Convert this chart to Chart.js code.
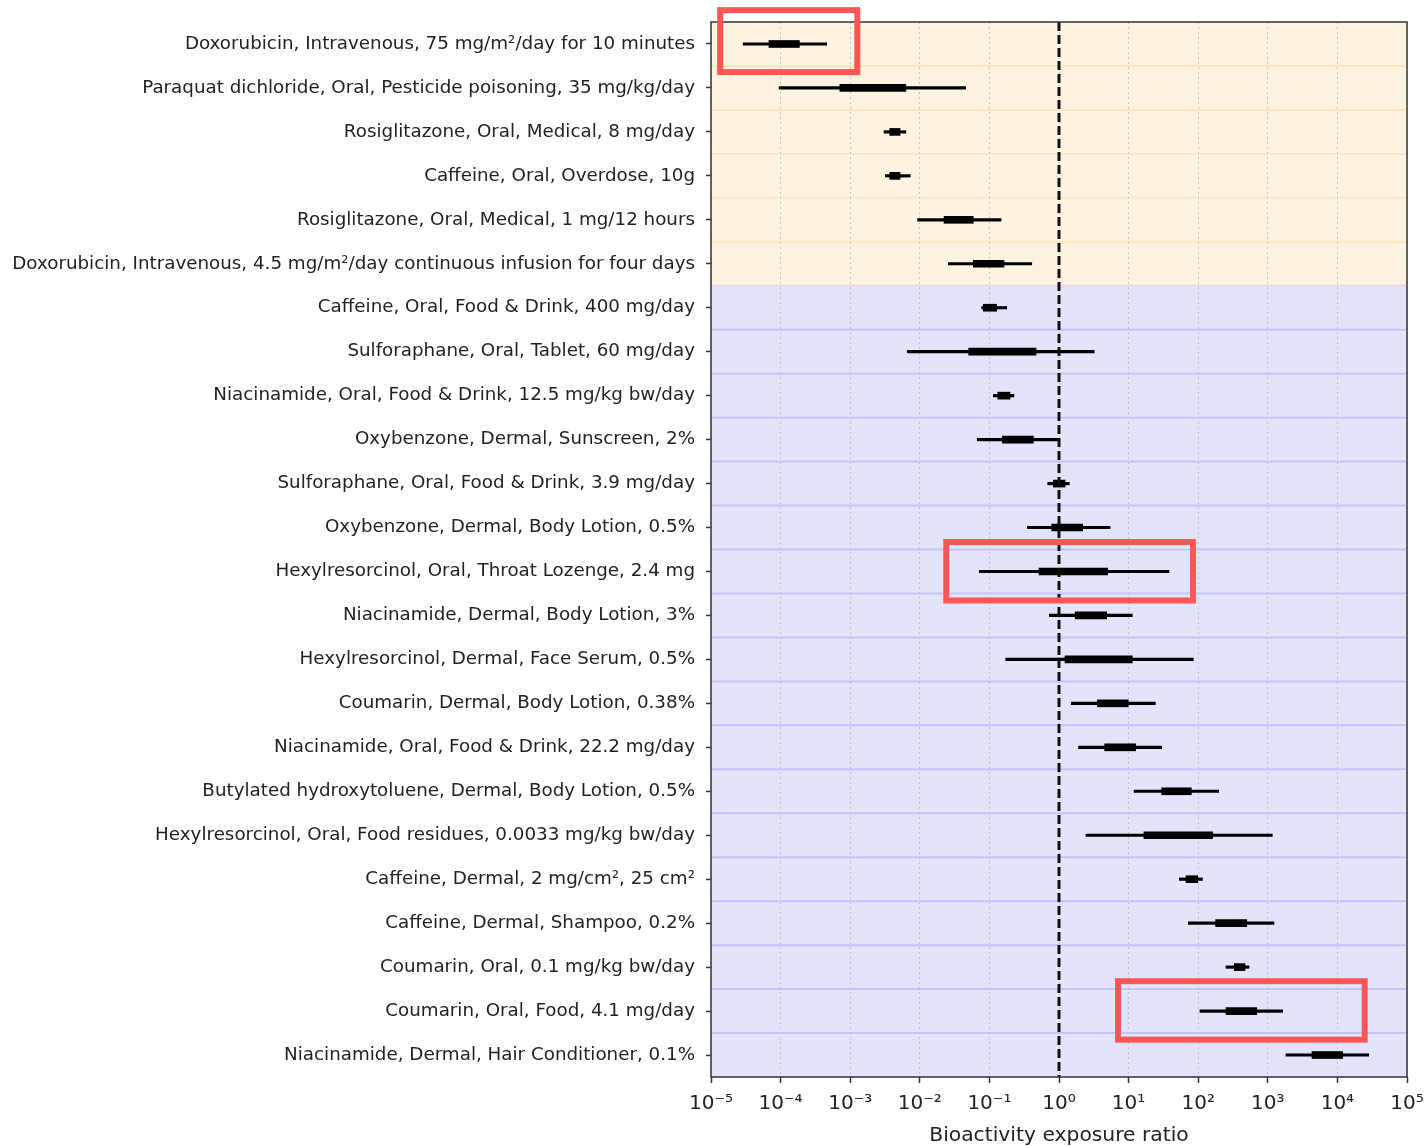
<!DOCTYPE html>
<html>
<head>
<meta charset="utf-8">
<title>Bioactivity exposure ratio</title>
<script src="https://cdn.jsdelivr.net/npm/chart.js@4.4.1/dist/chart.umd.min.js"></script>
<style>
  html, body { margin: 0; padding: 0; background: #fff; }
  #wrap { position: relative; width: 1427px; height: 1146px; }
</style>
</head>
<body>
<div id="wrap"><canvas id="chart" width="1427" height="1146"></canvas></div>
<script>
const labels = [
  "Doxorubicin, Intravenous, 75 mg/m²/day for 10 minutes",
  "Paraquat dichloride, Oral, Pesticide poisoning, 35 mg/kg/day",
  "Rosiglitazone, Oral, Medical, 8 mg/day",
  "Caffeine, Oral, Overdose, 10g",
  "Rosiglitazone, Oral, Medical, 1 mg/12 hours",
  "Doxorubicin, Intravenous, 4.5 mg/m²/day continuous infusion for four days",
  "Caffeine, Oral, Food & Drink, 400 mg/day",
  "Sulforaphane, Oral, Tablet, 60 mg/day",
  "Niacinamide, Oral, Food & Drink, 12.5 mg/kg bw/day",
  "Oxybenzone, Dermal, Sunscreen, 2%",
  "Sulforaphane, Oral, Food & Drink, 3.9 mg/day",
  "Oxybenzone, Dermal, Body Lotion, 0.5%",
  "Hexylresorcinol, Oral, Throat Lozenge, 2.4 mg",
  "Niacinamide, Dermal, Body Lotion, 3%",
  "Hexylresorcinol, Dermal, Face Serum, 0.5%",
  "Coumarin, Dermal, Body Lotion, 0.38%",
  "Niacinamide, Oral, Food & Drink, 22.2 mg/day",
  "Butylated hydroxytoluene, Dermal, Body Lotion, 0.5%",
  "Hexylresorcinol, Oral, Food residues, 0.0033 mg/kg bw/day",
  "Caffeine, Dermal, 2 mg/cm², 25 cm²",
  "Caffeine, Dermal, Shampoo, 0.2%",
  "Coumarin, Oral, 0.1 mg/kg bw/day",
  "Coumarin, Oral, Food, 4.1 mg/day",
  "Niacinamide, Dermal, Hair Conditioner, 0.1%"
];

// whisker (thin line) range and box (thick bar) range, per row
const whiskerLow  = [2.9e-5, 9.5e-5, 3.06e-3, 3.2e-3, 9.3e-3, 0.0257, 0.0774, 6.6e-3, 0.114, 0.067, 0.689, 0.351,
                     0.0716, 0.726, 0.171, 1.50, 1.91, 12.0, 2.44, 53.5, 72.1, 251, 106, 1824];
const whiskerHigh = [4.6e-4, 0.0456, 6.3e-3, 7.3e-3, 0.147, 0.406, 0.177, 3.21, 0.225, 1.0, 1.41, 5.41,
                     38.0, 11.3, 85.1, 24.2, 29.9, 197, 1161, 115, 1227, 537, 1637, 28200];
const boxLow      = [6.8e-5, 7.1e-4, 3.7e-3, 3.7e-3, 0.0223, 0.0587, 0.0818, 0.0504, 0.132, 0.153, 0.828, 0.785,
                     0.516, 1.71, 1.22, 3.56, 4.53, 29.9, 16.6, 66.8, 178, 330, 251, 4315];
const boxHigh     = [1.86e-4, 6.3e-3, 5.2e-3, 5.2e-3, 0.0587, 0.162, 0.127, 0.468, 0.198, 0.428, 1.22, 2.19,
                     5.01, 4.84, 11.3, 9.9, 12.6, 79.6, 161, 98.4, 498, 470, 693, 11900];

// rows 0..5 sit in the orange band, the rest in the lavender band
const orangeRows = 6;

const xTickValues = [1e-5, 1e-4, 1e-3, 1e-2, 1e-1, 1e0, 1e1, 1e2, 1e3, 1e4, 1e5];
const xTickLabels = ["10⁻⁵", "10⁻⁴", "10⁻³", "10⁻²", "10⁻¹", "10⁰", "10¹", "10²", "10³", "10⁴", "10⁵"];

// red highlight frames, in data units (x value, row index)
const highlights = [
  { xFrom: 1.355e-5, xTo: 1.265e-3, rowFrom: -0.77, rowTo: 0.64 },
  { xFrom: 0.024,    xTo: 84.1,     rowFrom: 11.33, rowTo: 12.66 },
  { xFrom: 7.05,     xTo: 24660,    rowFrom: 21.32, rowTo: 22.65 }
];

const FONT = "'DejaVu Sans', 'Liberation Sans', sans-serif";

const bandsPlugin = {
  id: "bands",
  beforeDraw(chart) {
    const { ctx, chartArea: a, scales: { y } } = chart;
    ctx.save();
    for (let i = 0; i < labels.length; i++) {
      const top = y.getPixelForValue(i - 0.5);
      const bot = y.getPixelForValue(i + 0.5);
      ctx.fillStyle = i < orangeRows ? "#fdf3e1" : "#e3e3fc";
      ctx.fillRect(a.left, top, a.right - a.left, bot - top);
    }
    ctx.lineWidth = 2;
    for (let i = 1; i < labels.length; i++) {
      const py = y.getPixelForValue(i - 0.5);
      ctx.strokeStyle = i < orangeRows ? "#fde5bd" : (i === orangeRows ? "#e6d6ec" : "#c4c4f8");
      ctx.beginPath();
      ctx.moveTo(a.left, py);
      ctx.lineTo(a.right, py);
      ctx.stroke();
    }
    ctx.restore();
  }
};

const overlayPlugin = {
  id: "overlay",
  afterDatasetsDraw(chart) {
    const { ctx, chartArea: a, scales: { x } } = chart;
    ctx.save();
    // reference line at ratio 1
    const px = x.getPixelForValue(1);
    ctx.strokeStyle = "#111";
    ctx.lineWidth = 3;
    ctx.setLineDash([9, 4]);
    ctx.beginPath();
    ctx.moveTo(px, a.top);
    ctx.lineTo(px, a.bottom);
    ctx.stroke();
    ctx.setLineDash([]);
    // frame
    ctx.strokeStyle = "#333";
    ctx.lineWidth = 1.5;
    ctx.strokeRect(a.left, a.top, a.right - a.left, a.bottom - a.top);
    ctx.restore();
  },
  afterDraw(chart) {
    const { ctx, scales: { x, y } } = chart;
    ctx.save();
    ctx.strokeStyle = "#ff5555";
    ctx.lineWidth = 6;
    highlights.forEach(h => {
      const x1 = x.getPixelForValue(h.xFrom);
      const x2 = x.getPixelForValue(h.xTo);
      const y1 = y.getPixelForValue(h.rowFrom);
      const y2 = y.getPixelForValue(h.rowTo);
      ctx.strokeRect(x1, y1, x2 - x1, y2 - y1);
    });
    ctx.restore();
  }
};

new Chart(document.getElementById("chart"), {
  type: "bar",
  data: {
    labels: labels,
    datasets: [
      {
        label: "range",
        data: labels.map((_, i) => [whiskerLow[i], whiskerHigh[i]]),
        backgroundColor: "#000",
        borderWidth: 0,
        barThickness: 2.5,
        grouped: false,
        order: 2
      },
      {
        label: "interquartile",
        data: labels.map((_, i) => [boxLow[i], boxHigh[i]]),
        backgroundColor: "#000",
        borderWidth: 0,
        barThickness: 7,
        grouped: false,
        order: 1
      }
    ]
  },
  options: {
    indexAxis: "y",
    responsive: false,
    animation: false,
    devicePixelRatio: 1,
    layout: { padding: { top: 22, right: 20, bottom: 0, left: 0 } },
    plugins: {
      legend: { display: false },
      tooltip: { enabled: false }
    },
    scales: {
      x: {
        type: "logarithmic",
        min: 1e-5,
        max: 1e5,
        afterBuildTicks(scale) {
          scale.ticks = xTickValues.map(v => ({ value: v }));
        },
        afterFit(scale) {
          scale.height = 69;
          scale.paddingLeft = 0;
          scale.paddingRight = 0;
        },
        border: { display: false, dash: [2, 3] },
        grid: {
          color: "#c4c4c4",
          lineWidth: 1,
          tickLength: 6,
          tickColor: "#333",
          tickWidth: 1.5,
          tickBorderDash: []
        },
        ticks: {
          autoSkip: false,
          maxRotation: 0,
          padding: 9,
          color: "#222",
          font: { family: FONT, size: 20 },
          callback: (v, i) => xTickLabels[i]
        },
        title: {
          display: true,
          text: "Bioactivity exposure ratio",
          color: "#222",
          font: { family: FONT, size: 20.3, lineHeight: 1.0 },
          padding: { top: 0, bottom: 0 }
        }
      },
      y: {
        afterFit(scale) {
          scale.width = 711;
          scale.paddingTop = 0;
          scale.paddingBottom = 0;
        },
        border: { display: false },
        grid: {
          offset: false,
          drawOnChartArea: false,
          tickLength: 5,
          tickColor: "#333",
          tickWidth: 1.5
        },
        ticks: {
          autoSkip: false,
          padding: 11,
          color: "#222",
          font: { family: FONT, size: 18.3 }
        }
      }
    }
  },
  plugins: [bandsPlugin, overlayPlugin]
});
</script>
</body>
</html>
